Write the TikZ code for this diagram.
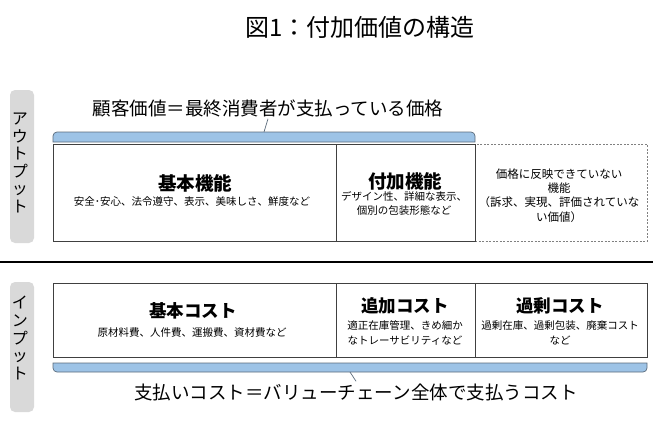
\documentclass[tikz,border=0pt]{standalone}
\usepackage{fontspec}
\setmainfont{Noto Sans CJK JP}
\usepackage{tikz}
\usetikzlibrary{positioning}
\definecolor{barblue}{HTML}{9DC3E6}
\definecolor{barline}{HTML}{5B6B7B}
\definecolor{sidegray}{HTML}{D9D9D9}
\definecolor{cellline}{HTML}{404040}
\definecolor{dashline}{HTML}{808080}
\tikzset{
  cell/.style={draw=cellline, line width=0.7pt, inner sep=0pt},
  hiddencell/.style={draw=dashline, line width=0.7pt, dash pattern=on 2pt off 1.5pt, inner sep=0pt},
  sidebox/.style={fill=sidegray, rounded corners=5pt, minimum width=24, inner sep=0pt},
  bluebar/.style={draw=barline, fill=barblue, line width=0.7pt},
  head/.style={inner sep=1pt, font=\fontsize{18.5pt}{22pt}\selectfont},
  cellhead/.style={inner sep=1pt, font=\fontsize{18.5pt}{22pt}\selectfont\bfseries},
  costhead/.style={inner sep=1pt, font=\fontsize{17.5pt}{21pt}\selectfont\bfseries},
  sub/.style={inner sep=1pt, align=center, font=\fontsize{10.5pt}{14.5pt}\selectfont},
  sidetext/.style={inner sep=1pt, align=center, font=\fontsize{16pt}{17.6pt}\selectfont},
}
\begin{document}
\begin{tikzpicture}[x=1pt, y=-1pt]
        \useasboundingbox (0,0) rectangle (660,420);
        \node[inner sep=1pt, font=\fontsize{24pt}{28pt}\selectfont] at (360,27) (title) {図1：付加価値の構造};

        \node[sidebox, minimum height=153] at (22,166.5) (outbox) {};
        \node[sidebox, minimum height=130] at (22,347) (inbox) {};
        \node[sidetext] at (20,163) (outtext) {ア\\ウ\\ト\\プ\\ッ\\ト};
        \node[sidetext] at (20,338) (intext) {イ\\ン\\プ\\ッ\\ト};

        \node[head, inner sep=2pt] at (268,108) (custvalue) {顧客価値＝最終消費者が支払っている価格};
        \draw[bluebar] (53,142) -- (53,136) arc[start angle=180, end angle=270, radius=4] -- (471,132) arc[start angle=270, end angle=360, radius=4] -- (475,142) -- cycle;
        \coordinate (topmid) at (264,132);
        \draw[barline, line width=0.7pt] (topmid) -- (custvalue.south);

        \node[hiddencell, minimum width=172, minimum height=97] at (561,192.5) (hiddenfn) {};
        \node[cell, minimum width=283, minimum height=97] at (194.5,192.5) (basicfn) {};
        \node[cell, minimum width=139, minimum height=97] at (405.5,192.5) (addfn) {};

        \node[cellhead] at (195,183) (basicfnhead) {基本機能};
        \node[sub] at (192,202) (basicfnsub) {安全･安心、法令遵守、表示、美味しさ、鮮度など};
        \node[cellhead] at (405,181) (addfnhead) {付加機能};
        \node[sub] at (404,203.5) (addfnsub) {デザイン性、詳細な表示、\\個別の包装形態など};
        \node[sub, font=\fontsize{11.5pt}{14.3pt}\selectfont] at (559,195.5) (hiddenfntext) {価格に反映できていない\\機能\\（訴求、実現、評価されていな\\い価値）};

        \draw[black, line width=1.2pt] (0,262) -- (653,262);

        \node[cell, minimum width=283, minimum height=74] at (194.5,320) (basiccost) {};
        \node[cell, minimum width=139, minimum height=74] at (405.5,320) (addcost) {};
        \node[cell, minimum width=172, minimum height=74] at (561,320) (excesscost) {};

        \node[costhead] at (193,311) (basiccosthead) {基本コスト};
        \node[sub] at (192,333) (basiccostsub) {原材料費、人件費、運搬費、資材費など};
        \node[costhead] at (405,306) (addcosthead) {追加コスト};
        \node[sub] at (405,333) (addcostsub) {適正在庫管理、きめ細か\\なトレーサビリティなど};
        \node[costhead] at (560,306) (excesscosthead) {過剰コスト};
        \node[sub] at (560,333) (excesscostsub) {過剰在庫、過剰包装、廃棄コスト\\など};

        \draw[bluebar] (53,363) -- (53,368) arc[start angle=180, end angle=90, radius=4] -- (643,372) arc[start angle=90, end angle=0, radius=4] -- (647,363) -- cycle;
        \coordinate (botmid) at (350,372);
        \node[head, inner sep=2pt] at (356,392) (paidcost) {支払いコスト＝バリューチェーン全体で支払うコスト};
        \draw[barline, line width=0.7pt] (botmid) -- (paidcost.north);
    \end{tikzpicture}
\end{document}
